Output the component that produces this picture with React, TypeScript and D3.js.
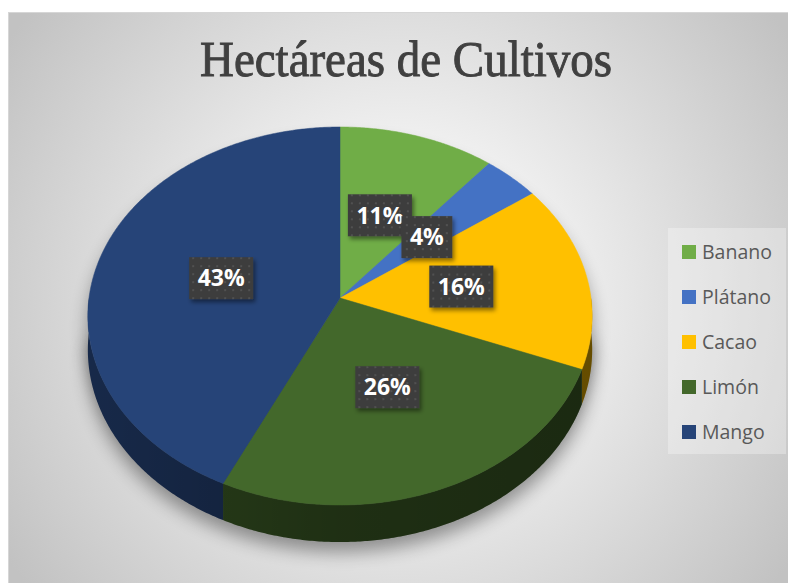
import { useRef, useEffect } from 'react';
import * as d3 from 'd3';

const CATEGORIES = ['Banano', 'Plátano', 'Cacao', 'Limón', 'Mango'];
const VALUES = [11, 4, 16, 26, 43];
const COLORS = ['#70AD47', '#4472C4', '#FFC000', '#43682B', '#264478'];
const TITLE = 'Hectáreas de Cultivos';

const W = 788;
const H = 583;

export default function App() {
  const svgRef = useRef<SVGSVGElement>(null);

  useEffect(() => {
    const svg = d3.select(svgRef.current);
    svg.selectAll('*').remove();
    svg.attr('width', W).attr('height', H);

    const defs = svg.append('defs');

    // background gradient
    const bg = defs.append('radialGradient')
      .attr('id', 'bg')
      .attr('gradientUnits', 'userSpaceOnUse')
      .attr('cx', 400).attr('cy', 300).attr('r', 470);
    bg.append('stop').attr('offset', 0).attr('stop-color', '#ffffff');
    bg.append('stop').attr('offset', 0.25).attr('stop-color', '#f6f6f6');
    bg.append('stop').attr('offset', 1).attr('stop-color', '#c2c2c2');

    const blur = defs.append('filter').attr('id', 'pieShadow')
      .attr('x', '-20%').attr('y', '-20%').attr('width', '140%').attr('height', '140%');
    blur.append('feGaussianBlur').attr('stdDeviation', 9);

    const boxShadow = defs.append('filter').attr('id', 'boxShadow')
      .attr('x', '-30%').attr('y', '-30%').attr('width', '160%').attr('height', '160%');
    boxShadow.append('feDropShadow')
      .attr('dx', 2).attr('dy', 3).attr('stdDeviation', 2)
      .attr('flood-color', '#000').attr('flood-opacity', 0.45);

    const dots = defs.append('pattern').attr('id', 'dots')
      .attr('patternUnits', 'userSpaceOnUse').attr('width', 8).attr('height', 8);
    dots.append('rect').attr('width', 8).attr('height', 8).attr('fill', '#3d3d3d');
    dots.append('circle').attr('cx', 4).attr('cy', 4).attr('r', 1).attr('fill', '#575757');

    // side wall lighting: light from the left
    const sideShade = defs.append('linearGradient').attr('id', 'sideShade')
      .attr('gradientUnits', 'userSpaceOnUse')
      .attr('x1', 88).attr('x2', 592).attr('y1', 0).attr('y2', 0);
    sideShade.append('stop').attr('offset', 0).attr('stop-color', '#000').attr('stop-opacity', 0);
    sideShade.append('stop').attr('offset', 0.5).attr('stop-color', '#000').attr('stop-opacity', 0.25);
    sideShade.append('stop').attr('offset', 1).attr('stop-color', '#000').attr('stop-opacity', 0.35);

    // chart area
    svg.append('rect').attr('x', 0).attr('y', 0).attr('width', W).attr('height', H).attr('fill', '#fff');
    svg.append('rect')
      .attr('x', 8.5).attr('y', 12.5).attr('width', W).attr('height', H)
      .attr('fill', 'url(#bg)').attr('stroke', '#d6d6d6');

    // title
    svg.append('text')
      .attr('x', 406).attr('y', 76)
      .attr('text-anchor', 'middle')
      .attr('font-family', '"Liberation Serif", "DejaVu Serif", serif')
      .attr('font-size', 50)
      .attr('textLength', 412)
      .attr('lengthAdjust', 'spacingAndGlyphs')
      .attr('fill', '#404040')
      .attr('stroke', '#404040').attr('stroke-width', 0.9)
      .text(TITLE);

    // perspective pie projection
    const CX = 340, CY = 298, RX = 251, RY = 187.3, U = 0.0952, DEPTH = 33.5;
    const proj = (t: number, r = 1, dz = 0): [number, number] => {
      const s = 1 / (1 + U * r * Math.cos(t));
      return [CX + RX * r * Math.sin(t) * s, CY - RY * r * Math.cos(t) * s + dz * s];
    };
    const rim = (a: number, b: number, dz = 0) => {
      const n = Math.max(2, Math.ceil(Math.abs(b - a) / (Math.PI / 360)));
      return d3.range(n + 1).map((i) => proj(a + ((b - a) * i) / n, 1, dz));
    };
    const line = d3.line();

    const pie = d3.pie<number>().sort(null).value((d) => d);
    const arcs = pie(VALUES);

    const g = svg.append('g');

    // soft shadow under the pie
    const silhouette = rim(0, 2 * Math.PI);
    const bottom = rim(Math.PI / 2, 1.5 * Math.PI, DEPTH);
    g.append('path')
      .attr('d', line(silhouette) + 'Z')
      .attr('transform', 'translate(0,14)')
      .attr('fill', '#000').attr('opacity', 0.38)
      .attr('filter', 'url(#pieShadow)');
    g.append('path')
      .attr('d', line(bottom) + 'Z')
      .attr('transform', 'translate(0,10)')
      .attr('fill', '#000').attr('opacity', 0.38)
      .attr('filter', 'url(#pieShadow)');

    // side walls (front half only)
    arcs.forEach((d, i) => {
      const a = Math.max(d.startAngle, Math.PI / 2);
      const b = Math.min(d.endAngle, 1.5 * Math.PI);
      if (a >= b) return;
      const pts = [...rim(a, b), ...rim(a, b, DEPTH).reverse()];
      const p = line(pts) + 'Z';
      g.append('path').attr('d', p)
        .attr('fill', d3.color(COLORS[i])!.darker(1.4).formatHex());
      g.append('path').attr('d', p).attr('fill', 'url(#sideShade)');
    });

    // top faces
    arcs.forEach((d, i) => {
      const pts = [[CX, CY] as [number, number], ...rim(d.startAngle, d.endAngle)];
      g.append('path')
        .attr('d', line(pts) + 'Z')
        .attr('fill', COLORS[i])
        .attr('stroke', COLORS[i]).attr('stroke-width', 0.5);
    });

    // data labels
    const total = d3.sum(VALUES);
    arcs.forEach((d) => {
      const mid = (d.startAngle + d.endAngle) / 2;
      const [lx, ly] = proj(mid, 0.49);
      const lg = g.append('g').attr('transform', `translate(${lx},${ly})`);
      const rect = lg.append('rect').attr('fill', 'url(#dots)').attr('filter', 'url(#boxShadow)');
      const txt = lg.append('text')
        .attr('text-anchor', 'middle')
        .attr('dy', '0.36em')
        .attr('font-family', '"Open Sans", sans-serif')
        .attr('font-weight', 700)
        .attr('font-size', 23)
        .attr('fill', '#fff')
        .text(`${Math.round((d.value / total) * 100)}%`);
      const tw = (txt.node() as SVGTextElement).getComputedTextLength();
      const bw = tw + 17;
      rect.attr('x', -bw / 2).attr('y', -21).attr('width', bw).attr('height', 42);
    });

    // legend
    const leg = svg.append('g');
    leg.append('rect')
      .attr('x', 668).attr('y', 228).attr('width', 118).attr('height', 226)
      .attr('fill', '#fff').attr('opacity', 0.3);
    const ly = d3.scalePoint<string>().domain(CATEGORIES).range([252, 432]);
    CATEGORIES.forEach((c, i) => {
      const y = ly(c)!;
      leg.append('rect')
        .attr('x', 682).attr('y', y - 7).attr('width', 14).attr('height', 14)
        .attr('fill', COLORS[i]);
      leg.append('text')
        .attr('x', 702).attr('y', y)
        .attr('dy', '0.35em')
        .attr('font-family', '"Open Sans", sans-serif')
        .attr('font-size', 19.5)
        .attr('fill', '#595959')
        .text(c);
    });
  }, []);

  return <svg ref={svgRef} style={{ position: 'absolute', left: 0, top: 0, display: 'block' }} />;
}
